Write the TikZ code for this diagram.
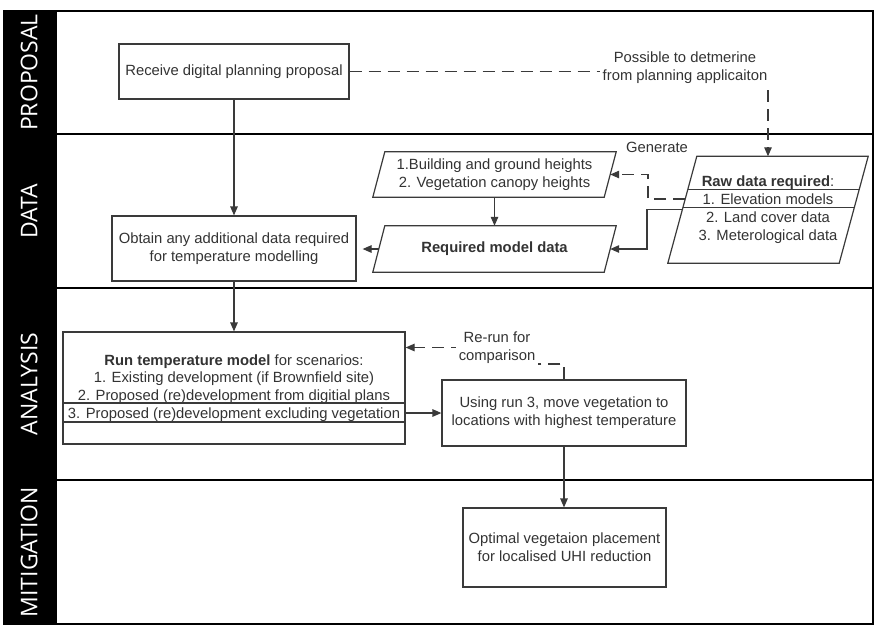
\documentclass[tikz,border=0pt]{standalone}
\usepackage{fontspec}
\setmainfont{Liberation Sans}
\newfontfamily\lanefont{Open Sans}
\usetikzlibrary{arrows.meta,calc}
\pgfdeclarelayer{back}
\pgfsetlayers{back,main}
\definecolor{ink}{HTML}{333333}
\definecolor{edge}{HTML}{3A3A3A}
\begin{document}
\begin{tikzpicture}[x=1pt,y=-1pt,
  font=\fontsize{14.8}{17.8}\selectfont,
  box/.style={draw=edge,line width=1.2pt,text=ink,align=center,inner sep=0pt},
  para/.style={draw=none,text=ink,align=center,inner sep=0pt},
  paraedge/.style={draw=edge,line width=1.2pt,line join=miter},
  conn/.style={draw=edge,line width=1.2pt,-{Triangle[length=9pt,width=7.5pt]}},
  dconn/.style={conn,dash pattern=on 12pt off 7pt},
  lanelbl/.style={text=white,rotate=90,font=\lanefont\fontsize{23}{23}\selectfont,inner sep=0pt,text height=16.5pt,text depth=0pt},
  lbl/.style={text=ink,align=center,fill=white,inner xsep=3pt,inner ysep=4pt},
  divider/.style={draw=black,line width=2.6pt},
]
\useasboundingbox (0,0) rectangle (886,638);
\begin{pgfonlayer}{back}
\fill[white] (0,0) rectangle (886,638);
\fill[black] (4,11) rectangle (57,624);
\draw[divider] (4,11) rectangle (873,624);
\draw[divider] (57,134) -- (873,134);
\draw[divider] (57,288) -- (873,288);
\draw[divider] (57,480) -- (873,480);
\end{pgfonlayer}

% lane labels
\node[lanelbl] (lprop) at (29,72.5) {PROPOSAL};
\node[lanelbl] (ldata) at (29,211) {DATA};
\node[lanelbl] (lana) at (29,384) {ANALYSIS};
\node[lanelbl] (lmit) at (29,552) {MITIGATION};

% boxes
\node[box,minimum width=230pt,minimum height=55pt] (recv) at (234,71.5) {Receive digital planning proposal};
\node[box,minimum width=244pt,minimum height=65pt] (obt) at (234,248.5) {Obtain any additional data required\\for temperature modelling};

\node[para,minimum width=243pt,minimum height=45pt] (hts) at (494.5,174.5) {1.Building and ground heights\\2. Vegetation canopy heights};
\draw[paraedge] (hts.south west) -- ([xshift=12pt]hts.north west) -- (hts.north east) -- ([xshift=-12pt]hts.south east) -- cycle;

\node[para,minimum width=243pt,minimum height=46pt,font=\fontsize{14.8}{17.8}\selectfont\bfseries] (req) at (494.5,249) {Required model data};
\draw[paraedge] (req.south west) -- ([xshift=12pt]req.north west) -- (req.north east) -- ([xshift=-12pt]req.south east) -- cycle;

\node[para,minimum width=200pt,minimum height=106.5pt] (raw) at (768,209.75) {\textbf{Raw data required}:\\1. Elevation models\\2. Land cover data\\3. Meterological data};
\draw[paraedge] (raw.south west) -- ([xshift=29pt]raw.north west) -- (raw.north east) -- ([xshift=-29pt]raw.south east) -- cycle;
\draw[paraedge] (688,189.5) -- (859,189.5);
\draw[paraedge] (683.1,207.5) -- (854.1,207.5);

\node[box,minimum width=342pt,minimum height=112pt] (run) at (234,388) {\textbf{Run temperature model} for scenarios:\\1. Existing development (if Brownfield site)\\2. Proposed (re)development from digitial plans\\3. Proposed (re)development excluding vegetation};
\draw[paraedge] ([yshift=-15pt]run.west) -- ([yshift=-15pt]run.east);
\draw[paraedge] ([yshift=-34pt]run.west) -- ([yshift=-34pt]run.east);

\node[box,minimum width=244pt,minimum height=66pt] (use) at (564,413) {Using run 3, move vegetation to\\locations with highest temperature};
\node[box,minimum width=203pt,minimum height=79pt] (opt) at (564.5,547.5) {Optimal vegetaion placement\\for localised UHI reduction};

% labels
\node[lbl] (poss) at (685,68) {Possible to detmerine\\from planning applicaiton};
\node[lbl] (gen) at (657,147) {Generate};
\node[lbl] (rr) at (497,347.5) {Re-run for\\comparison};

% helper coordinates
\coordinate (s1) at ([xshift=14.5pt]raw.west);
\coordinate (s2) at ([xshift=17.4pt,yshift=10.75pt]raw.west);
\coordinate (jx) at (647,0);
\coordinate (jx2) at (648,0);
\coordinate (rr1) at (510,364);

\begin{pgfonlayer}{back}
\draw[conn] (recv.south) -- (obt.north);
\draw[conn] (obt.south) -- (run.north);
\draw[conn] (hts.south) -- (req.north);
\draw[conn] ([xshift=6pt]req.west) -- ([xshift=6pt]req.west -| obt.east);
\draw[conn] (s1) -- (s1 -| jx) |- ([xshift=-6pt]req.east);
\draw[dconn] (s2) -- (s2 -| jx2) |- ([xshift=-6pt]hts.east);
\draw[dconn] (recv.east) -| (raw.north);
\draw[dconn] (use.north) |- (rr1) |- (rr.west -| run.east);
\draw[conn] (use.west -| run.east) -- (use.west);
\draw[conn] (use.south) -- (use.south |- opt.north);
\end{pgfonlayer}
\end{tikzpicture}
\end{document}
